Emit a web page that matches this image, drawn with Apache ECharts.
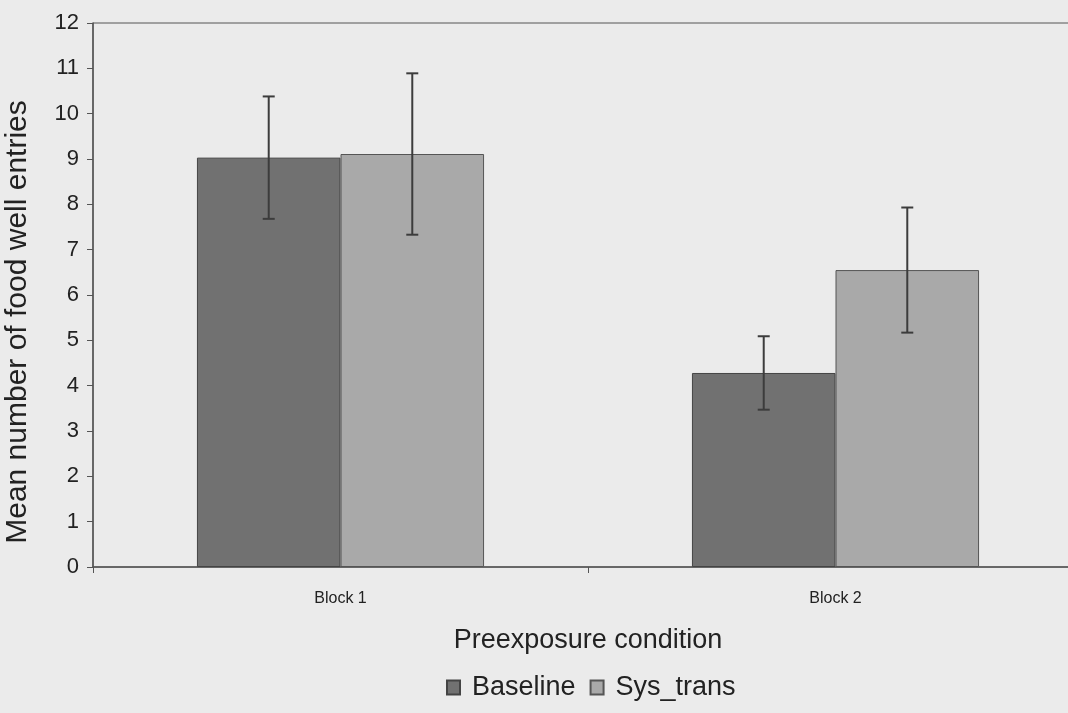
<!DOCTYPE html>
<html>
<head>
<meta charset="utf-8">
<style>
  html, body { margin: 0; padding: 0; background: #ebebeb; }
  #chart { width: 1068px; height: 713px; }
</style>
<script src="https://cdn.jsdelivr.net/npm/echarts@6/dist/echarts.min.js"></script>
</head>
<body>
<div id="chart"></div>
<script>
// Mean food well entries per block, with error bars
const categories = ['Block 1', 'Block 2'];
const seriesNames = ['Baseline', 'Sys_trans'];
const baseline = [9.03, 4.28];
const sysTrans = [9.11, 6.55];
const baselineErr = [1.35, 0.81];
const sysTransErr = [1.78, 1.38];
const yTicks = [0, 1, 2, 3, 4, 5, 6, 7, 8, 9, 10, 11, 12];

const FONT = '"Liberation Sans", Arial, sans-serif';
const categoryGap = 0.42;             // share of each band left empty
const barShare = (1 - categoryGap) / 2; // share of band per bar

function errorSeries(name, means, errs, side) {
  const data = means.map((m, i) => [i, m - errs[i], m + errs[i]]);
  return {
    type: 'custom',
    name: name + ' error',
    silent: true,
    z: 5,
    data: data,
    renderItem: function (params, api) {
      const idx = api.value(0);
      const band = api.size([1, 0])[0];
      const dx = side * band * barShare / 2;
      const lo = api.coord([idx, api.value(1)]);
      const hi = api.coord([idx, api.value(2)]);
      const x = lo[0] + dx;
      const cap = 6;
      const style = { stroke: '#3c3c3c', lineWidth: 2 };
      return {
        type: 'group',
        children: [
          { type: 'line', shape: { x1: x, y1: lo[1], x2: x, y2: hi[1] }, style: style },
          { type: 'line', shape: { x1: x - cap, y1: lo[1], x2: x + cap, y2: lo[1] }, style: style },
          { type: 'line', shape: { x1: x - cap, y1: hi[1], x2: x + cap, y2: hi[1] }, style: style }
        ]
      };
    }
  };
}

const chart = echarts.init(document.getElementById('chart'), null, { renderer: 'canvas' });
chart.setOption({
  backgroundColor: '#ebebeb',
  animation: false,
  grid: {
    left: 93, top: 23, width: 990, height: 544,
    outerBoundsMode: 'none',
    show: true, borderColor: '#555', borderWidth: 1, backgroundColor: 'transparent'
  },
  legend: {
    data: seriesNames.map(n => ({ name: n, icon: 'rect' })),
    left: 441, top: 669,
    itemWidth: 13, itemHeight: 14, itemGap: 14,
    textStyle: { fontFamily: FONT, fontSize: 27, color: '#222', padding: [0, 0, 0, 7] }
  },
  xAxis: {
    type: 'category',
    data: categories,
    name: 'Preexposure condition',
    nameLocation: 'middle',
    nameGap: 60,
    nameTextStyle: { fontFamily: FONT, fontSize: 27, color: '#222' },
    axisLine: { lineStyle: { color: '#555', width: 1.5 } },
    axisTick: { show: true, length: 6, lineStyle: { color: '#555' }, alignWithLabel: false },
    axisLabel: { fontFamily: FONT, fontSize: 16, color: '#222', margin: 24 }
  },
  yAxis: {
    type: 'value',
    min: yTicks[0], max: yTicks[yTicks.length - 1], interval: 1,
    name: 'Mean number of food well entries',
    nameLocation: 'middle',
    nameGap: 60,
    nameTextStyle: { fontFamily: FONT, fontSize: 30, color: '#222', padding: [0, 54, 0, 0] },
    axisLine: { show: true, lineStyle: { color: '#555', width: 1.5 } },
    axisTick: { show: true, length: 6, lineStyle: { color: '#555' } },
    axisLabel: { fontFamily: FONT, fontSize: 22, color: '#222', margin: 14 },
    splitLine: { show: false }
  },
  series: [
    {
      name: seriesNames[0], type: 'bar', data: baseline,
      barGap: '0%', barCategoryGap: (categoryGap * 100) + '%',
      itemStyle: { color: '#717171', borderColor: '#444', borderWidth: 1 }
    },
    {
      name: seriesNames[1], type: 'bar', data: sysTrans,
      barGap: '0%', barCategoryGap: (categoryGap * 100) + '%',
      itemStyle: { color: '#a9a9a9', borderColor: '#555', borderWidth: 1 }
    },
    errorSeries(seriesNames[0], baseline, baselineErr, -1),
    errorSeries(seriesNames[1], sysTrans, sysTransErr, 1)
  ]
});
</script>
</body>
</html>
